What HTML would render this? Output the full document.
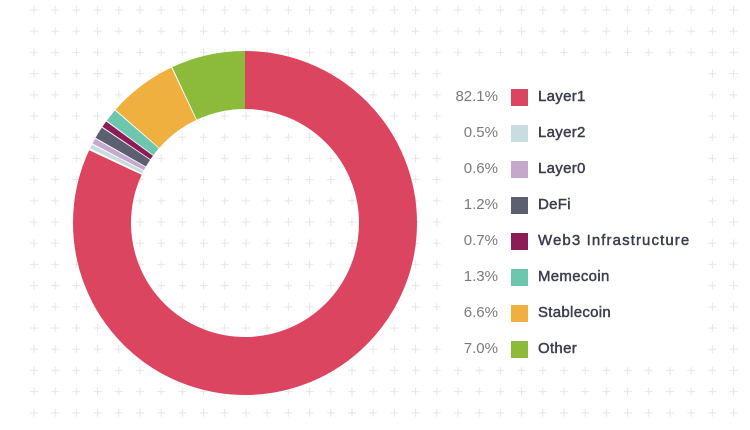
<!DOCTYPE html>
<html><head><meta charset="utf-8"><style>
html,body{margin:0;padding:0;background:#fff;}
body{width:750px;height:430px;overflow:hidden;position:relative;font-family:"Liberation Sans",sans-serif;}
.row{position:absolute;left:440px;height:20px;width:260px;}
.pct{position:absolute;right:202px;top:0;font-size:15px;color:#7a7a7a;line-height:20px;}
.sq{position:absolute;left:71px;top:2px;width:17px;height:17px;}
.lb{position:absolute;left:98px;top:0;font-size:15px;color:#3b3d4c;line-height:20px;font-weight:normal;-webkit-text-stroke:0.45px #3b3d4c;letter-spacing:0.3px;white-space:nowrap;}
</style></head><body>
<svg width="750" height="430" style="position:absolute;left:0;top:0">
<defs><pattern id="g" x="29" y="5" width="21.2" height="21.2" patternUnits="userSpaceOnUse">
<path d="M5 1V9M1 5H9" stroke="#e6e6ea" stroke-width="1"/></pattern></defs>
<rect x="24" y="0" width="726" height="425" fill="url(#g)"/>
<rect x="450" y="62" width="247" height="305" fill="#fff"/>
<g transform="rotate(-90 245 223)" fill="none" stroke-width="58">
<circle cx="245" cy="223" r="143" pathLength="100" stroke="#dc4560" stroke-dasharray="81.95 100" stroke-dashoffset="0"/>
<circle cx="245" cy="223" r="143" pathLength="100" stroke="#c9dde0" stroke-dasharray="0.4 100" stroke-dashoffset="-82.15"/>
<circle cx="245" cy="223" r="143" pathLength="100" stroke="#c4a9cc" stroke-dasharray="0.5 100" stroke-dashoffset="-82.65"/>
<circle cx="245" cy="223" r="143" pathLength="100" stroke="#5c5f70" stroke-dasharray="1.1 100" stroke-dashoffset="-83.25"/>
<circle cx="245" cy="223" r="143" pathLength="100" stroke="#8b1c57" stroke-dasharray="0.6 100" stroke-dashoffset="-84.45"/>
<circle cx="245" cy="223" r="143" pathLength="100" stroke="#6cc7ae" stroke-dasharray="1.2 100" stroke-dashoffset="-85.15"/>
<circle cx="245" cy="223" r="143" pathLength="100" stroke="#f0b040" stroke-dasharray="6.5 100" stroke-dashoffset="-86.45"/>
<circle cx="245" cy="223" r="143" pathLength="100" stroke="#8cbb3c" stroke-dasharray="6.95 100" stroke-dashoffset="-93.05"/>
</g>
</svg>
<div class="row" style="top:87px"><span class="pct">82.1%</span><span class="sq" style="background:#dc4560"></span><span class="lb">Layer1</span></div>
<div class="row" style="top:123px"><span class="pct">0.5%</span><span class="sq" style="background:#c9dde0"></span><span class="lb">Layer2</span></div>
<div class="row" style="top:159px"><span class="pct">0.6%</span><span class="sq" style="background:#c4a9cc"></span><span class="lb">Layer0</span></div>
<div class="row" style="top:195px"><span class="pct">1.2%</span><span class="sq" style="background:#5c5f70"></span><span class="lb">DeFi</span></div>
<div class="row" style="top:231px"><span class="pct">0.7%</span><span class="sq" style="background:#8b1c57"></span><span class="lb" style="letter-spacing:1.1px">Web3 Infrastructure</span></div>
<div class="row" style="top:267px"><span class="pct">1.3%</span><span class="sq" style="background:#6cc7ae"></span><span class="lb">Memecoin</span></div>
<div class="row" style="top:303px"><span class="pct">6.6%</span><span class="sq" style="background:#f0b040"></span><span class="lb">Stablecoin</span></div>
<div class="row" style="top:339px"><span class="pct">7.0%</span><span class="sq" style="background:#8cbb3c"></span><span class="lb">Other</span></div>
</body></html>
